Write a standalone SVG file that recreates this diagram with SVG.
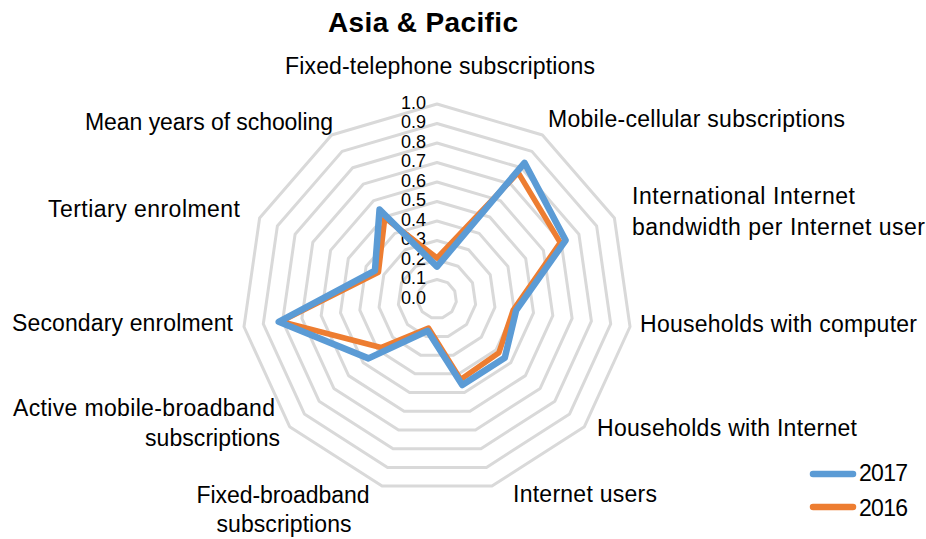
<svg xmlns="http://www.w3.org/2000/svg" width="926" height="539" viewBox="0 0 926 539">
<style>
text{font-family:"Liberation Sans",Arial,sans-serif;fill:#000}
.lab{font-size:23px}
.tick{font-size:18px;text-anchor:end}
.title{font-size:28px;font-weight:bold}
.ring{fill:none;stroke:#D9D9D9;stroke-width:3;stroke-linejoin:round}
.s17{fill:none;stroke:#5B9BD5;stroke-width:6.5;stroke-linejoin:round;stroke-linecap:round}
.s16{fill:none;stroke:#ED7D31;stroke-width:5.5;stroke-linejoin:round;stroke-linecap:round}
</style>
<rect width="926" height="539" fill="#fff"/>
<text class="title" x="423" y="32" text-anchor="middle" textLength="190">Asia &amp; Pacific</text>
<g id="grid">
<polygon class="ring" points="437,104 542.42,134.96 614.38,217.99 630.01,326.75 584.37,426.7 491.94,486.1 382.06,486.1 289.63,426.7 243.99,326.75 259.62,217.99 331.58,134.96"/>
<polygon class="ring" points="437,123.5 531.88,151.36 596.64,226.09 610.71,323.98 569.63,413.93 486.45,467.39 387.55,467.39 304.37,413.93 263.29,323.98 277.36,226.09 342.12,151.36"/>
<polygon class="ring" points="437,143 521.34,167.77 578.9,234.19 591.41,321.2 554.9,401.16 480.95,448.68 393.05,448.68 319.1,401.16 282.59,321.2 295.1,234.19 352.66,167.77"/>
<polygon class="ring" points="437,162.5 510.79,184.17 561.17,242.29 572.11,318.43 540.16,388.39 475.46,429.97 398.54,429.97 333.84,388.39 301.89,318.43 312.83,242.29 363.21,184.17"/>
<polygon class="ring" points="437,182 500.25,200.58 543.43,250.39 552.81,315.65 525.42,375.62 469.96,411.26 404.04,411.26 348.58,375.62 321.19,315.65 330.57,250.39 373.75,200.58"/>
<polygon class="ring" points="437,201.5 489.71,216.98 525.69,258.49 533.51,312.88 510.69,362.85 464.47,392.55 409.53,392.55 363.31,362.85 340.49,312.88 348.31,258.49 384.29,216.98"/>
<polygon class="ring" points="437,221 479.17,233.38 507.95,266.6 514.2,310.1 495.95,350.08 458.98,373.84 415.02,373.84 378.05,350.08 359.8,310.1 366.05,266.6 394.83,233.38"/>
<polygon class="ring" points="437,240.5 468.63,249.79 490.21,274.7 494.9,307.33 481.21,337.31 453.48,355.13 420.52,355.13 392.79,337.31 379.1,307.33 383.79,274.7 405.37,249.79"/>
<polygon class="ring" points="437,260 458.08,266.19 472.48,282.8 475.6,304.55 466.47,324.54 447.99,336.42 426.01,336.42 407.53,324.54 398.4,304.55 401.52,282.8 415.92,266.19"/>
<polygon class="ring" points="437,279.5 447.54,282.6 454.74,290.9 456.3,301.78 451.74,311.77 442.49,317.71 431.51,317.71 422.26,311.77 417.7,301.78 419.26,290.9 426.46,282.6"/>
</g>
<g id="ticks">
<text class="tick" x="426" y="108.5">1.0</text>
<text class="tick" x="426" y="128">0.9</text>
<text class="tick" x="426" y="147.5">0.8</text>
<text class="tick" x="426" y="167">0.7</text>
<text class="tick" x="426" y="186.5">0.6</text>
<text class="tick" x="426" y="206">0.5</text>
<text class="tick" x="426" y="225.5">0.4</text>
<text class="tick" x="426" y="245">0.3</text>
<text class="tick" x="426" y="264.5">0.2</text>
<text class="tick" x="426" y="284">0.1</text>
<text class="tick" x="426" y="303.5">0.0</text>
</g>
<g id="series">
<polygon id="s2016" class="s16" points="437,258.05 518.17,172.69 560.28,242.7 513.24,309.96 498.9,352.63 460.62,379.45 428.48,328 381,347.53 280.66,321.48 378.46,272.27 384.82,217.8"/>
<polygon id="s2017" class="s17" points="437,266.6 524.5,162.85 565.6,240.27 516.13,310.38 504.79,357.74 462.27,385.07 427.66,330.81 368.47,358.38 278.73,321.76 374.92,270.65 379.55,209.6"/>
</g>
<g id="labels">
<text class="lab" x="440" y="74" text-anchor="middle" textLength="310">Fixed-telephone subscriptions</text>
<text class="lab" x="548" y="127" textLength="297">Mobile-cellular subscriptions</text>
<text class="lab" x="632" y="204" textLength="223">International Internet</text>
<text class="lab" x="632" y="235" textLength="293">bandwidth per Internet user</text>
<text class="lab" x="640" y="332" textLength="277">Households with computer</text>
<text class="lab" x="597" y="436" textLength="260">Households with Internet</text>
<text class="lab" x="513" y="502" textLength="144">Internet users</text>
<text class="lab" x="283" y="503" text-anchor="middle" textLength="173">Fixed-broadband</text>
<text class="lab" x="284" y="532" text-anchor="middle" textLength="135">subscriptions</text>
<text class="lab" x="275" y="416" text-anchor="end" textLength="262">Active mobile-broadband</text>
<text class="lab" x="280" y="446" text-anchor="end" textLength="135">subscriptions</text>
<text class="lab" x="233" y="331" text-anchor="end" textLength="221">Secondary enrolment</text>
<text class="lab" x="240" y="217" text-anchor="end" textLength="192">Tertiary enrolment</text>
<text class="lab" x="333" y="130" text-anchor="end" textLength="248">Mean years of schooling</text>
</g>
<g id="legend">
<line x1="813" y1="474" x2="853" y2="474" stroke="#5B9BD5" stroke-width="6.5" stroke-linecap="round"/>
<text class="lab" x="859" y="481" textLength="49">2017</text>
<line x1="813" y1="507" x2="853" y2="507" stroke="#ED7D31" stroke-width="6.5" stroke-linecap="round"/>
<text class="lab" x="859" y="516" textLength="49">2016</text>
</g>
</svg>
